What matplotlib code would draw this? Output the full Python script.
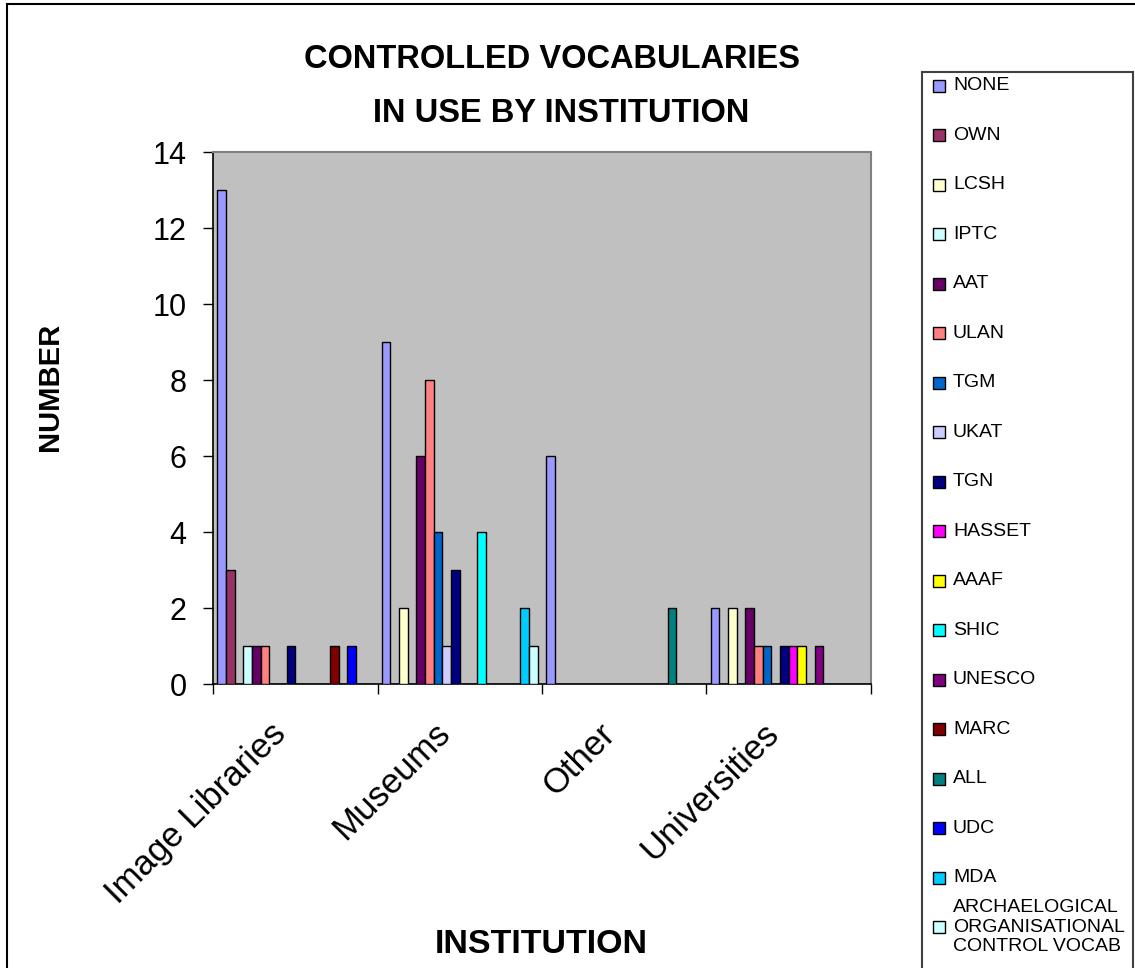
import numpy as np
import matplotlib
matplotlib.use("Agg")
import matplotlib.pyplot as plt
from matplotlib.patches import Rectangle

plt.rcParams['font.family'] = ['Liberation Sans', 'DejaVu Sans']

# data
institutions = ["Image Libraries", "Museums", "Other", "Universities"]
vocabularies = ["NONE", "OWN", "LCSH", "IPTC", "AAT", "ULAN", "TGM", "UKAT", "TGN",
                "HASSET", "AAAF", "SHIC", "UNESCO", "MARC", "ALL", "UDC", "MDA",
                "ARCHAELOGICAL\nORGANISATIONAL\nCONTROL VOCAB"]
colours = ["#9999FF", "#993366", "#FFFFCC", "#CCFFFF", "#660066", "#FF8080",
           "#0066CC", "#CCCCFF", "#000080", "#FF00FF", "#FFFF00", "#00FFFF",
           "#800080", "#800000", "#008080", "#0000FF", "#00CCFF", "#CCFFFF"]

# one row per vocabulary, one column per institution
counts = [
    [13, 9, 6, 2],   # NONE
    [3, 0, 0, 0],    # OWN
    [0, 2, 0, 2],    # LCSH
    [1, 0, 0, 0],    # IPTC
    [1, 6, 0, 2],    # AAT
    [1, 8, 0, 1],    # ULAN
    [0, 4, 0, 1],    # TGM
    [0, 1, 0, 0],    # UKAT
    [1, 3, 0, 1],    # TGN
    [0, 0, 0, 1],    # HASSET
    [0, 0, 0, 1],    # AAAF
    [0, 4, 0, 0],    # SHIC
    [0, 0, 0, 1],    # UNESCO
    [1, 0, 0, 0],    # MARC
    [0, 0, 2, 0],    # ALL
    [1, 0, 0, 0],    # UDC
    [0, 2, 0, 0],    # MDA
    [0, 1, 0, 0],    # ARCHAELOGICAL ORGANISATIONAL CONTROL VOCAB
]
y_ticks = [0, 2, 4, 6, 8, 10, 12, 14]

W, H = 1135, 968
fig = plt.figure(figsize=(W / 100, H / 100), dpi=100)


def fx(px):
    return px / W


def fy(py):
    return 1 - py / H


ax = fig.add_axes([fx(213), fy(684), fx(871) - fx(213), fy(152) - fy(684)])
ax.set_facecolor("#C0C0C0")

n = len(vocabularies)
width = 1.0 / (n + 1)
x = np.arange(len(institutions))
for i, (name, col) in enumerate(zip(vocabularies, colours)):
    ax.bar(x + (i - (n - 1) / 2) * width, counts[i], width, color=col,
           edgecolor="black", linewidth=1.0, zorder=3)

ax.set_xlim(-0.5, len(institutions) - 0.5)
ax.set_ylim(0, 14)
ax.set_yticks(y_ticks)
ax.set_yticklabels([str(v) for v in y_ticks], fontsize=22)
ax.set_xticks(np.arange(len(institutions) + 1) - 0.5)
ax.set_xticklabels([])
ax.tick_params(axis="both", direction="out", length=7, width=1, color="black")
ax.tick_params(axis="y", pad=12)

for side in ["top", "right"]:
    ax.spines[side].set_color("#808080")
    ax.spines[side].set_linewidth(1.5)
for side in ["left", "bottom"]:
    ax.spines[side].set_color("black")
    ax.spines[side].set_linewidth(1.2)

# rotated category labels under each group
for xi, label in zip(x, institutions):
    ax.text(xi - 0.048, -0.096, label, transform=ax.get_xaxis_transform(), rotation=45,
            rotation_mode="anchor", ha="right", va="baseline", fontsize=25)

# titles
fig.text(fx(552), fy(68), "CONTROLLED VOCABULARIES", ha="center", va="baseline",
         fontsize=23.5, fontweight="bold")
fig.text(fx(561), fy(122), "IN USE BY INSTITUTION", ha="center", va="baseline",
         fontsize=23.5, fontweight="bold")
fig.text(fx(50.5), fy(387), "NUMBER", rotation=90, ha="center", va="center",
         fontsize=21, fontweight="bold")
fig.text(fx(541), fy(953), "INSTITUTION", ha="center", va="baseline",
         fontsize=24.5, fontweight="bold")

# legend box on the right
fig.patches.append(Rectangle((fx(921.5), fy(975)), fx(1133) - fx(921.5), fy(72) - fy(975),
                             transform=fig.transFigure, facecolor="white",
                             edgecolor="#404040", linewidth=1.5, clip_on=False))
step = (927 - 86) / (n - 1)
for i, (name, col) in enumerate(zip(vocabularies, colours)):
    yc = 86 + i * step
    fig.patches.append(Rectangle((fx(933), fy(yc + 6)), fx(945) - fx(933), fy(yc - 6) - fy(yc + 6),
                                 transform=fig.transFigure, facecolor=col,
                                 edgecolor="black", linewidth=1.0))
    fig.text(fx(953), fy(yc), name, ha="left", va="center", fontsize=14,
             linespacing=1.2)

# outer frame of the chart
fig.patches.append(Rectangle((fx(7), fy(1000)), fx(1200) - fx(7), fy(3.5) - fy(1000),
                             transform=fig.transFigure, fill=False,
                             edgecolor="black", linewidth=1.5, clip_on=False))

fig.savefig("out.png", dpi=100)
